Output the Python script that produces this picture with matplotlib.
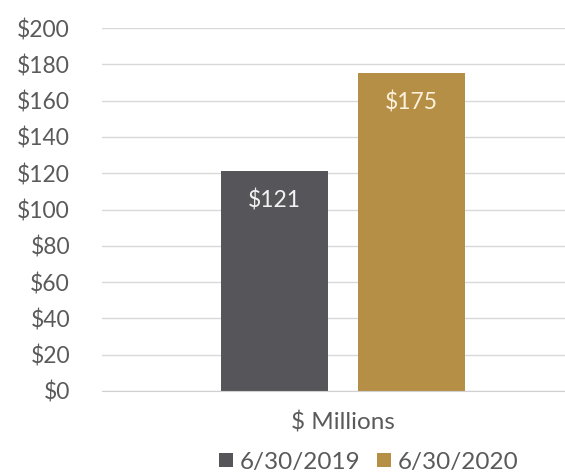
import matplotlib.pyplot as plt
from matplotlib.patches import Patch

plt.rcParams['font.family'] = ['Lato', 'DejaVu Sans']

category = "$ Millions"
series_names = ["6/30/2019", "6/30/2020"]
values = [121, 175]
colors = ["#56565A", "#B68F47"]
label_colors = ["#F2F2F2", "#FBF1DC"]
y_ticks = list(range(0, 201, 20))

text_color = "#5A5A5A"

fig = plt.figure(figsize=(5.65, 4.75), dpi=100)
ax = fig.add_axes([102 / 565, 84 / 475, 482 / 565, 363 / 475])

offsets = [-0.1425, 0.1425]
width = 0.222
for off, val, col, lc in zip(offsets, values, colors, label_colors):
    ax.bar(off, val, width=width, color=col, zorder=3)
    ax.annotate(f"${val}", xy=(off, val), xytext=(0, -21), textcoords="offset points",
                ha="center", va="center", color=lc, fontsize=16.5)

ax.set_xlim(-0.5, 0.5)
ax.set_ylim(0, 200)
ax.set_yticks(y_ticks)
ax.set_yticklabels([f"${v}" for v in y_ticks])
ax.set_xticks([0])
ax.set_xticklabels([category])

ax.grid(axis="y", color="#D9D9D9", linewidth=1.0, zorder=0)
for s in ["top", "right", "left"]:
    ax.spines[s].set_visible(False)
ax.spines["bottom"].set_color("#D0D0D0")
ax.spines["bottom"].set_zorder(4)

ax.tick_params(axis="y", length=0, pad=23, labelsize=16.5, labelcolor=text_color)
ax.tick_params(axis="x", length=0, pad=15, labelsize=17.5, labelcolor=text_color)

handles = [Patch(facecolor=c, edgecolor="none") for c in colors]
fig.legend(handles, series_names, loc="center", bbox_to_anchor=(369 / 565, 1 - 462 / 475),
           ncol=2, frameon=False, fontsize=17.5, labelcolor=text_color,
           handlelength=0.55, handleheight=0.55, handletextpad=0.3, columnspacing=0.7,
           borderpad=0, borderaxespad=0)

fig.savefig("out.png", dpi=100)
